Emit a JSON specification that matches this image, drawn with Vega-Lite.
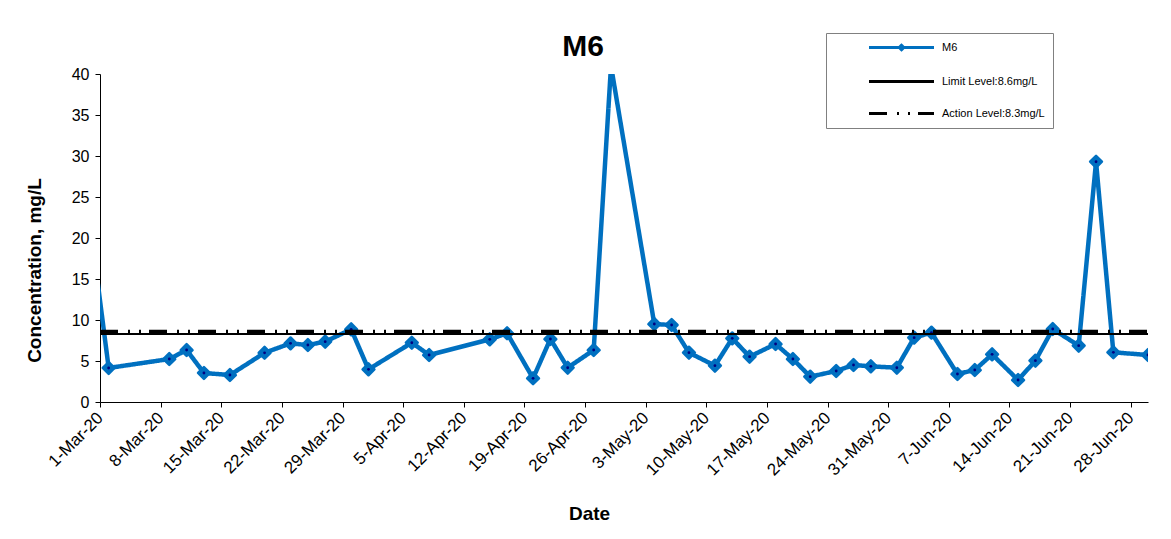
{
  "$schema": "https://vega.github.io/schema/vega-lite/v6.json",
  "width": 1048,
  "height": 328,
  "autosize": {"type": "none"},
  "padding": {"left": 100, "top": 74, "right": 23, "bottom": 137},
  "background": "white",
  "config": {
    "view": {"stroke": null},
    "font": "Liberation Sans",
    "axis": {"grid": false, "domainColor": "black", "tickColor": "black", "labelColor": "black", "titleColor": "black", "labelFont": "Liberation Sans", "titleFont": "Liberation Sans"}
  },
  "title": {"text": "M6", "fontSize": 30, "fontWeight": "bold", "font": "Liberation Sans", "color": "black", "anchor": "middle", "frame": "group", "dx": -41, "dy": 65, "offset": 12, "baseline": "alphabetic"},
  "data": {"values": [
    {"date": "2020-02-29", "value": 20.6, "series": "M6"},
    {"date": "2020-03-02", "value": 4.15, "series": "M6"},
    {"date": "2020-03-09", "value": 5.24, "series": "M6"},
    {"date": "2020-03-11", "value": 6.34, "series": "M6"},
    {"date": "2020-03-13", "value": 3.54, "series": "M6"},
    {"date": "2020-03-16", "value": 3.29, "series": "M6"},
    {"date": "2020-03-20", "value": 6.0, "series": "M6"},
    {"date": "2020-03-23", "value": 7.15, "series": "M6"},
    {"date": "2020-03-25", "value": 6.95, "series": "M6"},
    {"date": "2020-03-27", "value": 7.36, "series": "M6"},
    {"date": "2020-03-30", "value": 8.86, "series": "M6"},
    {"date": "2020-04-01", "value": 3.98, "series": "M6"},
    {"date": "2020-04-06", "value": 7.23, "series": "M6"},
    {"date": "2020-04-08", "value": 5.73, "series": "M6"},
    {"date": "2020-04-15", "value": 7.64, "series": "M6"},
    {"date": "2020-04-17", "value": 8.38, "series": "M6"},
    {"date": "2020-04-20", "value": 2.89, "series": "M6"},
    {"date": "2020-04-22", "value": 7.68, "series": "M6"},
    {"date": "2020-04-24", "value": 4.18, "series": "M6"},
    {"date": "2020-04-27", "value": 6.34, "series": "M6"},
    {"date": "2020-04-29", "value": 41, "series": "M6"},
    {"date": "2020-05-04", "value": 9.51, "series": "M6"},
    {"date": "2020-05-06", "value": 9.39, "series": "M6"},
    {"date": "2020-05-08", "value": 6.02, "series": "M6"},
    {"date": "2020-05-11", "value": 4.43, "series": "M6"},
    {"date": "2020-05-13", "value": 7.76, "series": "M6"},
    {"date": "2020-05-15", "value": 5.53, "series": "M6"},
    {"date": "2020-05-18", "value": 7.07, "series": "M6"},
    {"date": "2020-05-20", "value": 5.24, "series": "M6"},
    {"date": "2020-05-22", "value": 3.09, "series": "M6"},
    {"date": "2020-05-25", "value": 3.78, "series": "M6"},
    {"date": "2020-05-27", "value": 4.51, "series": "M6"},
    {"date": "2020-05-29", "value": 4.35, "series": "M6"},
    {"date": "2020-06-01", "value": 4.18, "series": "M6"},
    {"date": "2020-06-03", "value": 7.85, "series": "M6"},
    {"date": "2020-06-05", "value": 8.46, "series": "M6"},
    {"date": "2020-06-08", "value": 3.41, "series": "M6"},
    {"date": "2020-06-10", "value": 3.9, "series": "M6"},
    {"date": "2020-06-12", "value": 5.81, "series": "M6"},
    {"date": "2020-06-15", "value": 2.68, "series": "M6"},
    {"date": "2020-06-17", "value": 5.04, "series": "M6"},
    {"date": "2020-06-19", "value": 8.9, "series": "M6"},
    {"date": "2020-06-22", "value": 6.87, "series": "M6"},
    {"date": "2020-06-24", "value": 29.3, "series": "M6"},
    {"date": "2020-06-26", "value": 6.06, "series": "M6"},
    {"date": "2020-06-30", "value": 5.73, "series": "M6"},
    {"date": "2020-03-01", "value": 8.3, "series": "Limit Level:8.6mg/L"},
    {"date": "2020-06-30", "value": 8.3, "series": "Limit Level:8.6mg/L"},
    {"date": "2020-03-01", "value": 8.6, "series": "Action Level:8.3mg/L"},
    {"date": "2020-06-30", "value": 8.6, "series": "Action Level:8.3mg/L"}
  ]},
  "encoding": {
    "x": {
      "field": "date", "type": "temporal",
      "scale": {"type": "utc", "domain": [{"year": 2020, "month": 3, "date": 1, "utc": true}, {"year": 2020, "month": 6, "date": 30, "utc": true}]},
      "axis": {
        "title": "Date", "titleFontSize": 19, "titleFontWeight": "bold", "titleX": 489, "titleY": 117, "titleBaseline": "alphabetic", "titleAnchor": "middle", "titleAlign": "center",
        "format": "%-d-%b-%y", "labelAngle": -45, "labelAlign": "right", "labelBaseline": "middle", "labelFontSize": 17, "labelPadding": 8, "tickSize": 5, "labelOverlap": false,
        "values": [
          {"year": 2020, "month": 3, "date": 1, "utc": true},
          {"year": 2020, "month": 3, "date": 8, "utc": true},
          {"year": 2020, "month": 3, "date": 15, "utc": true},
          {"year": 2020, "month": 3, "date": 22, "utc": true},
          {"year": 2020, "month": 3, "date": 29, "utc": true},
          {"year": 2020, "month": 4, "date": 5, "utc": true},
          {"year": 2020, "month": 4, "date": 12, "utc": true},
          {"year": 2020, "month": 4, "date": 19, "utc": true},
          {"year": 2020, "month": 4, "date": 26, "utc": true},
          {"year": 2020, "month": 5, "date": 3, "utc": true},
          {"year": 2020, "month": 5, "date": 10, "utc": true},
          {"year": 2020, "month": 5, "date": 17, "utc": true},
          {"year": 2020, "month": 5, "date": 24, "utc": true},
          {"year": 2020, "month": 5, "date": 31, "utc": true},
          {"year": 2020, "month": 6, "date": 7, "utc": true},
          {"year": 2020, "month": 6, "date": 14, "utc": true},
          {"year": 2020, "month": 6, "date": 21, "utc": true},
          {"year": 2020, "month": 6, "date": 28, "utc": true}
        ]
      }
    },
    "y": {
      "field": "value", "type": "quantitative",
      "scale": {"domain": [0, 40], "nice": false, "zero": true},
      "axis": {"title": "Concentration, mg/L", "titleFontSize": 19, "titleFontWeight": "bold", "titleX": -60, "titleY": 196, "titleBaseline": "alphabetic", "titleAngle": -90, "titleAlign": "center",
        "values": [0, 5, 10, 15, 20, 25, 30, 35, 40], "labelFontSize": 16, "labelPadding": 6, "tickSize": 5}
    }
  },
  "layer": [
    {
      "transform": [{"filter": "datum.series === 'M6'"}],
      "mark": {"type": "line", "clip": true, "strokeWidth": 4.5, "strokeJoin": "round"},
      "encoding": {
        "color": {"field": "series", "type": "nominal",
          "scale": {"domain": ["M6", "Limit Level:8.6mg/L", "Action Level:8.3mg/L"], "range": ["#0070C0", "black", "black"]},
          "legend": {"orient": "none", "legendX": 726, "legendY": -41, "title": null, "strokeColor": "#808080", "fillColor": "white", "padding": 8, "rowPadding": 19,
            "symbolType": "M-6.5,0H6.5", "symbolSize": 100, "symbolStrokeWidth": 3, "symbolOffset": 61, "labelOffset": 34,
            "labelFont": "Liberation Sans", "labelFontSize": 11, "labelColor": "black",
            "encode": {"symbols": {"update": {"shape": {"signal": "datum.value === 'M6' ? 'M-6.5,0H6.5M-0.45,0L0,-0.45L0.45,0L0,0.45Z' : 'M-6.5,0H6.5'"}}}}}},
        "strokeDash": {"field": "series", "type": "nominal",
          "scale": {"domain": ["M6", "Limit Level:8.6mg/L", "Action Level:8.3mg/L"], "range": [[1, 0], [1, 0], [18, 10, 2, 9, 2, 8]]},
          "legend": {"orient": "none", "legendX": 726, "legendY": -41, "title": null, "strokeColor": "#808080", "fillColor": "white", "padding": 8, "rowPadding": 19,
            "symbolType": "M-6.5,0H6.5", "symbolSize": 100, "symbolStrokeWidth": 3, "symbolOffset": 61, "labelOffset": 34,
            "labelFont": "Liberation Sans", "labelFontSize": 11, "labelColor": "black",
            "encode": {"symbols": {"update": {"shape": {"signal": "datum.value === 'M6' ? 'M-6.5,0H6.5M-0.45,0L0,-0.45L0.45,0L0,0.45Z' : 'M-6.5,0H6.5'"}}}}}}
      }
    },
    {
      "transform": [{"filter": "datum.series === 'M6'"}],
      "mark": {"type": "point", "clip": true, "shape": "diamond", "filled": true, "size": 140, "color": "#0070C0", "stroke": "#0070C0", "strokeWidth": 2.5, "strokeJoin": "round", "opacity": 1}
    },
    {
      "transform": [{"filter": "datum.series === 'M6'"}],
      "mark": {"type": "point", "clip": true, "shape": "circle", "filled": true, "size": 8, "color": "#000080", "opacity": 1}
    },
    {
      "transform": [{"filter": "datum.series === 'Limit Level:8.6mg/L'"}],
      "mark": {"type": "line", "clip": true, "strokeWidth": 2},
      "encoding": {
        "color": {"field": "series", "type": "nominal"},
        "strokeDash": {"field": "series", "type": "nominal"}
      }
    },
    {
      "transform": [{"filter": "datum.series === 'Action Level:8.3mg/L'"}],
      "mark": {"type": "line", "clip": true, "strokeWidth": 3.5},
      "encoding": {
        "color": {"field": "series", "type": "nominal"},
        "strokeDash": {"field": "series", "type": "nominal"}
      }
    }
  ]
}
